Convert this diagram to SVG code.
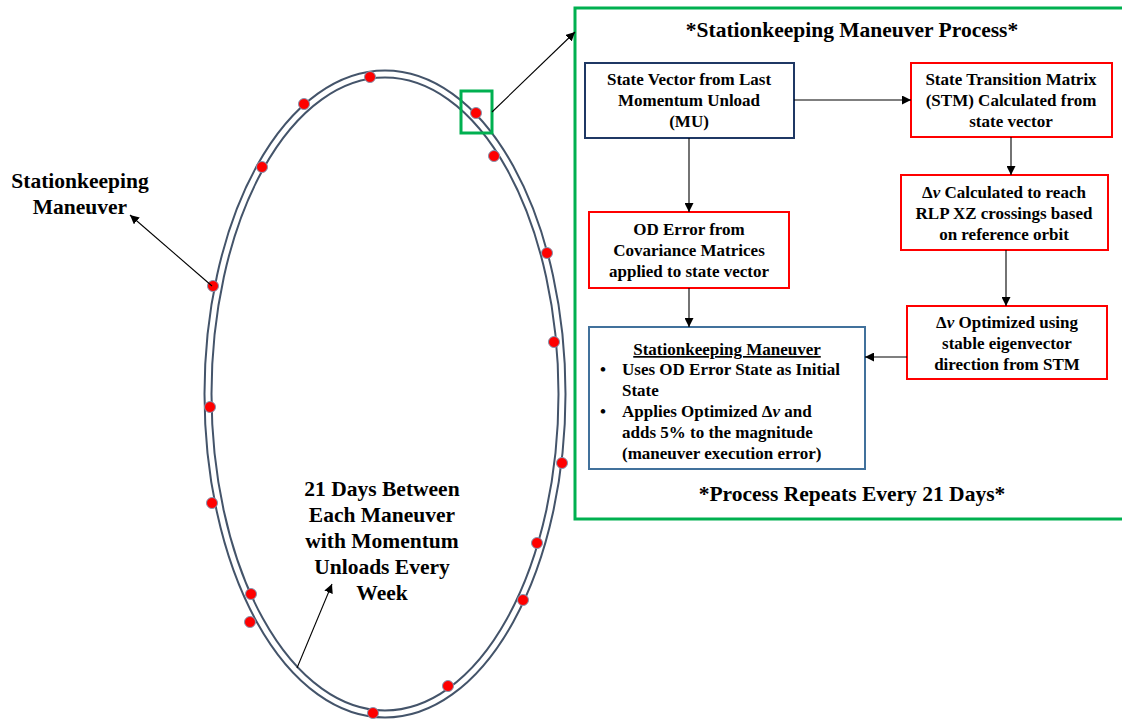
<svg xmlns="http://www.w3.org/2000/svg" width="1122" height="721" viewBox="0 0 1122 721">
<defs>
<style>
.t{font-family:"Liberation Serif","Times New Roman",serif;font-weight:bold;font-size:17px;fill:#000}
.big{font-family:"Liberation Serif","Times New Roman",serif;font-weight:bold;font-size:21.5px;fill:#000}
.mid{text-anchor:middle}
.ln{stroke:#000;stroke-width:1.1;fill:none}
.dot{fill:#ff0000;stroke:#8496b0;stroke-width:1}
.red{fill:#fff;stroke:#ff0000;stroke-width:2}
</style>
<marker id="ah" viewBox="0 0 10 10" refX="10" refY="5" markerWidth="9" markerHeight="9" markerUnits="userSpaceOnUse" orient="auto">
<path d="M0,0 L10,5 L0,10 Z" fill="#000"/>
</marker>
</defs>
<rect width="1122" height="721" fill="#fff"/>

<g id="orbit">
<ellipse cx="385" cy="394" rx="177" ry="320" fill="none" stroke="#44546a" stroke-width="9"/>
<ellipse cx="385" cy="394" rx="177" ry="320" fill="none" stroke="#fff" stroke-width="5"/>
</g>

<g id="dots">
<circle class="dot" cx="370" cy="77" r="5.5"/>
<circle class="dot" cx="304" cy="104" r="5.5"/>
<circle class="dot" cx="262" cy="167" r="5.5"/>
<circle class="dot" cx="476" cy="113" r="5.5"/>
<circle class="dot" cx="494" cy="156" r="5.5"/>
<circle class="dot" cx="547" cy="253" r="5.5"/>
<circle class="dot" cx="554" cy="342" r="5.5"/>
<circle class="dot" cx="562" cy="463" r="5.5"/>
<circle class="dot" cx="537" cy="543" r="5.5"/>
<circle class="dot" cx="523" cy="600" r="5.5"/>
<circle class="dot" cx="448" cy="686" r="5.5"/>
<circle class="dot" cx="373" cy="713" r="5.5"/>
<circle class="dot" cx="250" cy="622" r="5.5"/>
<circle class="dot" cx="251" cy="594" r="5.5"/>
<circle class="dot" cx="212" cy="503" r="5.5"/>
<circle class="dot" cx="210" cy="407" r="5.5"/>
<circle class="dot" cx="213" cy="286" r="5.5"/>
</g>

<g id="highlight">
<rect x="461" y="91" width="31" height="42" fill="none" stroke="#00b050" stroke-width="3"/>
</g>

<g id="process-frame">
<rect x="575" y="8" width="560" height="511" fill="none" stroke="#00b050" stroke-width="3"/>
<text class="big mid" x="852" y="37">*Stationkeeping Maneuver Process*</text>
<text class="big mid" x="852" y="501">*Process Repeats Every 21 Days*</text>
</g>

<g id="label-sk">
<text class="big mid" x="80" y="188">Stationkeeping</text>
<text class="big mid" x="80" y="214">Maneuver</text>
</g>

<g id="label-21days">
<text class="big mid" x="382" y="496">21 Days Between</text>
<text class="big mid" x="382" y="522">Each Maneuver</text>
<text class="big mid" x="382" y="548">with Momentum</text>
<text class="big mid" x="382" y="574">Unloads Every</text>
<text class="big mid" x="382" y="600">Week</text>
</g>

<g id="nodeA">
<rect x="585" y="63" width="209" height="75" fill="#fff" stroke="#1f3864" stroke-width="2"/>
<text class="t mid" x="689" y="85">State Vector from Last</text>
<text class="t mid" x="689" y="106">Momentum Unload</text>
<text class="t mid" x="689" y="127">(MU)</text>
</g>

<g id="nodeB">
<rect class="red" x="911" y="63" width="201" height="74"/>
<text class="t mid" x="1011" y="85">State Transition Matrix</text>
<text class="t mid" x="1011" y="106">(STM) Calculated from</text>
<text class="t mid" x="1011" y="127">state vector</text>
</g>

<g id="nodeC">
<rect class="red" x="901" y="175" width="207" height="75"/>
<text class="t mid" x="1004" y="198">Δ<tspan font-style="italic">v</tspan> Calculated to reach</text>
<text class="t mid" x="1004" y="219">RLP XZ crossings based</text>
<text class="t mid" x="1004" y="240">on reference orbit</text>
</g>

<g id="nodeD">
<rect class="red" x="589" y="212" width="200" height="76"/>
<text class="t mid" x="689" y="235">OD Error from</text>
<text class="t mid" x="689" y="256">Covariance Matrices</text>
<text class="t mid" x="689" y="277">applied to state vector</text>
</g>

<g id="nodeE">
<rect class="red" x="907" y="306" width="200" height="73"/>
<text class="t mid" x="1007" y="328">Δ<tspan font-style="italic">v</tspan> Optimized using</text>
<text class="t mid" x="1007" y="349">stable eigenvector</text>
<text class="t mid" x="1007" y="370">direction from STM</text>
</g>

<g id="nodeF">
<rect x="589" y="327" width="276" height="142" fill="#fff" stroke="#41719c" stroke-width="2"/>
<text class="t mid" x="727" y="355" text-decoration="underline">Stationkeeping Maneuver</text>
<text class="t" x="600" y="375">•</text>
<text class="t" x="622" y="375">Uses OD Error State as Initial</text>
<text class="t" x="622" y="396">State</text>
<text class="t" x="600" y="417">•</text>
<text class="t" x="622" y="417">Applies Optimized Δ<tspan font-style="italic">v</tspan> and</text>
<text class="t" x="622" y="438">adds 5% to the magnitude</text>
<text class="t" x="622" y="459">(maneuver execution error)</text>
</g>

<g id="connectors">
<line class="ln" x1="794" y1="100" x2="911" y2="100" marker-end="url(#ah)"/>
<line class="ln" x1="1011" y1="137" x2="1011" y2="175" marker-end="url(#ah)"/>
<line class="ln" x1="1006" y1="250" x2="1006" y2="306" marker-end="url(#ah)"/>
<line class="ln" x1="907" y1="357" x2="865" y2="357" marker-end="url(#ah)"/>
<line class="ln" x1="689" y1="138" x2="689" y2="212" marker-end="url(#ah)"/>
<line class="ln" x1="689" y1="288" x2="689" y2="327" marker-end="url(#ah)"/>
<line class="ln" x1="492" y1="112" x2="575" y2="32" marker-end="url(#ah)"/>
<line class="ln" x1="212" y1="286" x2="130" y2="215" marker-end="url(#ah)"/>
<line class="ln" x1="297" y1="668" x2="332" y2="584" marker-end="url(#ah)"/>
</g>
</svg>
